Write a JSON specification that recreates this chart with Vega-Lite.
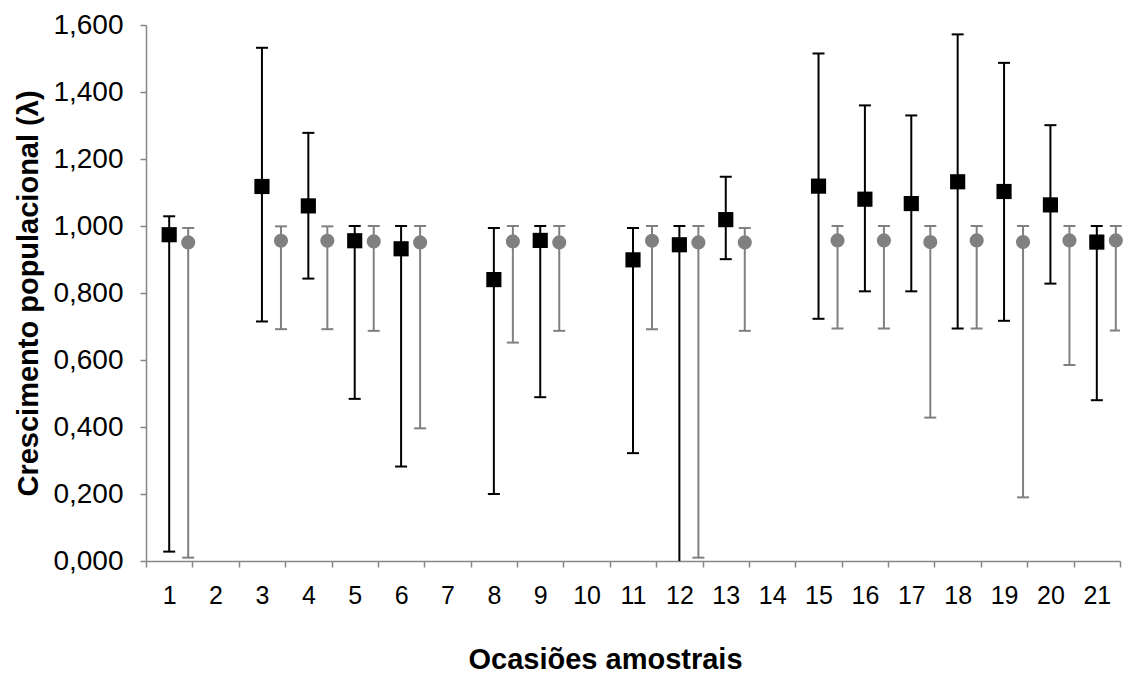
{
  "$schema": "https://vega.github.io/schema/vega-lite/v6.json",
  "width": 974,
  "height": 536,
  "autosize": {"type": "none"},
  "padding": {"left": 146, "top": 25, "right": 5, "bottom": 116},
  "background": "white",
  "config": {
    "view": {"stroke": null},
    "font": "Liberation Sans",
    "axisX": {
      "domainColor": "#868686", "domainWidth": 1.5,
      "tickColor": "#868686", "tickWidth": 1.5, "tickSize": 6,
      "tickBand": "extent", "grid": false, "labelAngle": 0,
      "labelFontSize": 25, "labelColor": "#000000", "labelPadding": 16,
      "titleFontSize": 29, "titleFontWeight": "bold", "titleColor": "#000000",
      "titleX": 459, "titleY": 107, "titleBaseline": "alphabetic", "titleAlign": "center"
    },
    "axisY": {
      "domainColor": "#868686", "domainWidth": 1.5,
      "tickColor": "#868686", "tickWidth": 1.5, "tickSize": 6,
      "grid": false,
      "labelFontSize": 28, "labelColor": "#000000", "labelPadding": 17,
      "titleFontSize": 29, "titleFontWeight": "bold", "titleColor": "#000000", "titlePadding": 9
    }
  },
  "data": {
    "values": [
      {"occ": "1", "series": "A", "mean": 0.974, "lo": 0.028, "hi": 1.029},
      {"occ": "3", "series": "A", "mean": 1.118, "lo": 0.715, "hi": 1.532},
      {"occ": "4", "series": "A", "mean": 1.060, "lo": 0.843, "hi": 1.278},
      {"occ": "5", "series": "A", "mean": 0.956, "lo": 0.484, "hi": 1.000},
      {"occ": "6", "series": "A", "mean": 0.932, "lo": 0.282, "hi": 1.000},
      {"occ": "8", "series": "A", "mean": 0.840, "lo": 0.200, "hi": 0.994},
      {"occ": "9", "series": "A", "mean": 0.957, "lo": 0.489, "hi": 1.000},
      {"occ": "11", "series": "A", "mean": 0.899, "lo": 0.322, "hi": 0.994},
      {"occ": "12", "series": "A", "mean": 0.944, "lo": -0.060, "hi": 1.000},
      {"occ": "13", "series": "A", "mean": 1.019, "lo": 0.901, "hi": 1.147},
      {"occ": "15", "series": "A", "mean": 1.119, "lo": 0.723, "hi": 1.515},
      {"occ": "16", "series": "A", "mean": 1.080, "lo": 0.805, "hi": 1.360},
      {"occ": "17", "series": "A", "mean": 1.067, "lo": 0.805, "hi": 1.330},
      {"occ": "18", "series": "A", "mean": 1.132, "lo": 0.694, "hi": 1.572},
      {"occ": "19", "series": "A", "mean": 1.103, "lo": 0.717, "hi": 1.487},
      {"occ": "20", "series": "A", "mean": 1.063, "lo": 0.828, "hi": 1.301},
      {"occ": "21", "series": "A", "mean": 0.952, "lo": 0.480, "hi": 1.000},
      {"occ": "1", "series": "B", "mean": 0.951, "lo": 0.010, "hi": 0.994},
      {"occ": "3", "series": "B", "mean": 0.956, "lo": 0.692, "hi": 0.999},
      {"occ": "4", "series": "B", "mean": 0.956, "lo": 0.692, "hi": 0.999},
      {"occ": "5", "series": "B", "mean": 0.954, "lo": 0.687, "hi": 1.000},
      {"occ": "6", "series": "B", "mean": 0.951, "lo": 0.396, "hi": 1.000},
      {"occ": "8", "series": "B", "mean": 0.954, "lo": 0.652, "hi": 1.000},
      {"occ": "9", "series": "B", "mean": 0.951, "lo": 0.687, "hi": 1.000},
      {"occ": "11", "series": "B", "mean": 0.956, "lo": 0.692, "hi": 1.000},
      {"occ": "12", "series": "B", "mean": 0.951, "lo": 0.010, "hi": 1.000},
      {"occ": "13", "series": "B", "mean": 0.951, "lo": 0.687, "hi": 0.994},
      {"occ": "15", "series": "B", "mean": 0.957, "lo": 0.694, "hi": 1.000},
      {"occ": "16", "series": "B", "mean": 0.957, "lo": 0.694, "hi": 1.000},
      {"occ": "17", "series": "B", "mean": 0.952, "lo": 0.428, "hi": 1.000},
      {"occ": "18", "series": "B", "mean": 0.957, "lo": 0.694, "hi": 1.000},
      {"occ": "19", "series": "B", "mean": 0.952, "lo": 0.190, "hi": 1.000},
      {"occ": "20", "series": "B", "mean": 0.957, "lo": 0.585, "hi": 1.000},
      {"occ": "21", "series": "B", "mean": 0.957, "lo": 0.688, "hi": 1.000}
    ]
  },
  "encoding": {
    "x": {
      "field": "occ", "type": "ordinal", "title": "Ocasiões amostrais",
      "scale": {"domain": ["1","2","3","4","5","6","7","8","9","10","11","12","13","14","15","16","17","18","19","20","21"], "paddingInner": 0, "paddingOuter": 0}
    },
    "xOffset": {
      "field": "series", "type": "nominal",
      "scale": {"type": "point", "domain": ["pre", "A", "B"], "padding": 0.22}
    },
    "color": {
      "field": "series", "type": "nominal",
      "scale": {"domain": ["A", "B"], "range": ["#000000", "#808080"]},
      "legend": null
    }
  },
  "layer": [
    {
      "mark": {"type": "rule", "strokeWidth": 2, "clip": true},
      "encoding": {
        "y": {
          "field": "lo", "type": "quantitative", "title": "Crescimento populacional (λ)",
          "scale": {"domain": [0, 1.6], "nice": false},
          "axis": {"values": [0, 0.2, 0.4, 0.6, 0.8, 1.0, 1.2, 1.4, 1.6], "labelExpr": "replace(format(datum.value, '.3f'), '.', ',')"}
        },
        "y2": {"field": "hi"}
      }
    },
    {
      "mark": {"type": "tick", "orient": "horizontal", "size": 12, "thickness": 2, "clip": true, "opacity": 1},
      "encoding": {"y": {"field": "lo", "type": "quantitative", "title": "Crescimento populacional (λ)"}}
    },
    {
      "mark": {"type": "tick", "orient": "horizontal", "size": 12, "thickness": 2, "opacity": 1},
      "encoding": {"y": {"field": "hi", "type": "quantitative", "title": "Crescimento populacional (λ)"}}
    },
    {
      "transform": [{"filter": "datum.series === 'A'"}],
      "mark": {"type": "square", "size": 230, "filled": true, "opacity": 1},
      "encoding": {"y": {"field": "mean", "type": "quantitative", "title": "Crescimento populacional (λ)"}}
    },
    {
      "transform": [{"filter": "datum.series === 'B'"}],
      "mark": {"type": "circle", "size": 200, "opacity": 1},
      "encoding": {"y": {"field": "mean", "type": "quantitative", "title": "Crescimento populacional (λ)"}}
    }
  ]
}
